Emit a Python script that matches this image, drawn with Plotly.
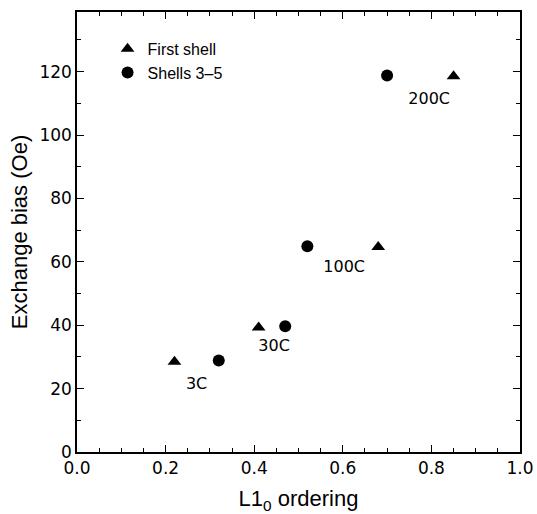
import plotly.graph_objects as go

# Data
first_x = [0.22, 0.41, 0.68, 0.85]
first_y = [28.5, 39.3, 64.7, 118.5]
shells_x = [0.32, 0.47, 0.52, 0.70]
shells_y = [28.9, 39.7, 64.9, 118.8]
label_text = ["3C", "30C", "100C", "200C"]
label_x = [0.27, 0.445, 0.603, 0.795]
label_y = [21, 33, 58, 111]

TICKFONT = "DejaVu Sans"
TITLEFONT = "Liberation Sans"

fig = go.Figure()
fig.add_trace(go.Scatter(x=first_x, y=first_y, mode="markers", name="First shell",
                         marker=dict(symbol="triangle-up", size=12, color="black")))
fig.add_trace(go.Scatter(x=shells_x, y=shells_y, mode="markers", name="Shells 3\u20135",
                         marker=dict(symbol="circle", size=12, color="black")))
fig.add_trace(go.Scatter(x=label_x, y=label_y, mode="text", text=label_text,
                         textfont=dict(family=TICKFONT, size=16, color="black"),
                         showlegend=False, hoverinfo="skip"))

axis_common = dict(showline=True, linecolor="black", linewidth=1.5, mirror="allticks",
                   ticks="inside", ticklen=7, tickwidth=1, tickcolor="black",
                   showgrid=False, zeroline=False, automargin=False,
                   tickfont=dict(family=TICKFONT, size=17, color="black"),
                   minor=dict(ticks="inside", ticklen=4, tickwidth=1, tickcolor="black"))

fig.update_xaxes(range=[0, 1.0], tick0=0, dtick=0.2, tickformat=".1f",
                 title=dict(text="L1<sub>0</sub> ordering", font=dict(family=TITLEFONT, size=22, color="black"), standoff=14),
                 **axis_common)
fig.update_yaxes(range=[0, 138.8], tick0=0, dtick=20,
                 title=dict(text="Exchange bias (Oe)", font=dict(family=TITLEFONT, size=22, color="black"), standoff=6),
                 **axis_common)
fig.update_xaxes(minor=dict(dtick=0.05))
fig.update_yaxes(minor=dict(dtick=10))

fig.update_layout(width=537, height=514, plot_bgcolor="white", paper_bgcolor="white",
                  margin=dict(l=77, r=17, t=12, b=62, autoexpand=False),
                  legend=dict(x=0.069, y=0.955, xanchor="left", yanchor="top",
                              font=dict(family=TITLEFONT, size=16, color="black"),
                              bgcolor="rgba(0,0,0,0)", tracegroupgap=0),
                  showlegend=True)

fig.write_html("out.html")
